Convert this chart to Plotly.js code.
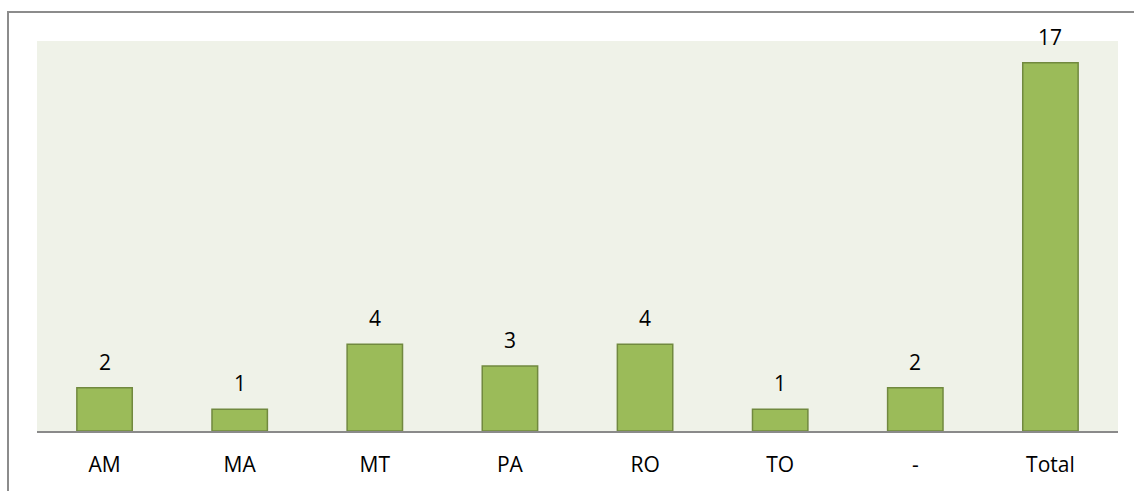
<!DOCTYPE html>
<html>
<head>
<meta charset="utf-8">
<script src="https://cdn.plot.ly/plotly-3.0.1.min.js"></script>
<style>
  html, body { margin: 0; padding: 0; background: #fff; overflow: hidden; }
  #frame { position: absolute; left: 7px; top: 11px; width: 1200px; height: 600px;
           border-left: 2px solid #8c8c8c; border-top: 2px solid #8c8c8c; }
  #myPlot { position: absolute; left: 0; top: 0; width: 1134px; height: 491px; }
</style>
</head>
<body>
<div id="frame"></div>
<div id="myPlot"></div>
<script>
// states and counts
const categories = ['AM', 'MA', 'MT', 'PA', 'RO', 'TO', '-', 'Total'];
const counts = [2, 1, 4, 3, 4, 1, 2, 17];

function renderChart() {
    const trace = {
        x: categories,
        y: counts,
        type: 'bar',
        width: 0.41,
        marker: {
            color: '#9bbb59',
            line: { color: '#71893f', width: 1.5 }
        },
        hoverinfo: 'none'
    };

    // value labels above each bar
    const labels = categories.map((c, i) => ({
        x: c,
        y: counts[i],
        text: String(counts[i]),
        showarrow: false,
        yanchor: 'bottom',
        yshift: 10,
        font: { family: 'Open Sans, sans-serif', size: 21, color: '#000' }
    }));

    const layout = {
        width: 1134,
        height: 491,
        margin: { l: 37, r: 16, t: 41, b: 60 },
        paper_bgcolor: 'rgba(0,0,0,0)',
        plot_bgcolor: '#eff2e8',
        showlegend: false,
        bargap: 0.59,
        xaxis: {
            type: 'category',
            showline: true,
            linecolor: '#8a8a8a',
            linewidth: 2,
            ticks: '',
            ticklabelstandoff: 14,
            tickfont: { family: 'Open Sans, sans-serif', size: 21, color: '#000' },
            fixedrange: true
        },
        yaxis: {
            range: [0, 18],
            showgrid: false,
            zeroline: false,
            showticklabels: false,
            showline: false,
            fixedrange: true
        },
        annotations: labels
    };

    Plotly.newPlot('myPlot', [trace], layout, { displayModeBar: false, staticPlot: true });
}

renderChart();
</script>
</body>
</html>
